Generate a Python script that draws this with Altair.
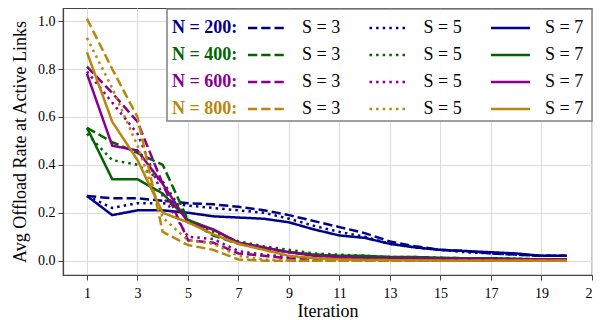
import altair as alt
import pandas as pd

# ---------------- data ----------------
iterations = list(range(1, 21))
N_values = ["200", "400", "600", "800"]
S_values = ["3", "5", "7"]

n200_s3 = [0.27, 0.26, 0.26, 0.25, 0.24, 0.235, 0.225, 0.21, 0.19, 0.165, 0.14, 0.115, 0.08, 0.06, 0.045, 0.04, 0.03, 0.025, 0.02, 0.02]
n200_s5 = [0.27, 0.22, 0.24, 0.24, 0.23, 0.22, 0.21, 0.20, 0.175, 0.145, 0.12, 0.10, 0.07, 0.055, 0.045, 0.035, 0.03, 0.025, 0.02, 0.02]
n200_s7 = [0.27, 0.19, 0.21, 0.21, 0.20, 0.185, 0.18, 0.175, 0.16, 0.13, 0.105, 0.095, 0.07, 0.055, 0.045, 0.04, 0.035, 0.03, 0.02, 0.02]

n400_s3 = [0.555, 0.495, 0.45, 0.40, 0.17, 0.105, 0.07, 0.05, 0.035, 0.025, 0.02, 0.015, 0.015, 0.012, 0.01, 0.01, 0.008, 0.005, 0.005, 0.005]
n400_s5 = [0.53, 0.42, 0.40, 0.33, 0.17, 0.12, 0.08, 0.06, 0.045, 0.03, 0.025, 0.02, 0.015, 0.015, 0.012, 0.01, 0.01, 0.008, 0.005, 0.005]
n400_s7 = [0.555, 0.34, 0.34, 0.28, 0.17, 0.13, 0.075, 0.055, 0.035, 0.025, 0.02, 0.02, 0.015, 0.015, 0.012, 0.01, 0.01, 0.008, 0.005, 0.005]

n600_s3 = [0.81, 0.70, 0.58, 0.32, 0.085, 0.075, 0.03, 0.02, 0.01, 0.005, 0.005, 0.005, 0.005, 0.005, 0.005, 0.005, 0.005, 0.005, 0.005, 0.005]
n600_s5 = [0.79, 0.66, 0.53, 0.27, 0.10, 0.09, 0.04, 0.025, 0.015, 0.01, 0.008, 0.006, 0.005, 0.005, 0.005, 0.005, 0.005, 0.005, 0.005, 0.005]
n600_s7 = [0.78, 0.48, 0.46, 0.32, 0.16, 0.13, 0.075, 0.055, 0.035, 0.02, 0.015, 0.01, 0.01, 0.01, 0.008, 0.008, 0.006, 0.005, 0.005, 0.005]

n800_s3 = [1.01, 0.80, 0.60, 0.12, 0.065, 0.045, 0.005, 0.0, 0.0, 0.0, 0.0, 0.0, 0.0, 0.0, 0.0, 0.0, 0.0, 0.0, 0.0, 0.0]
n800_s5 = [0.93, 0.72, 0.48, 0.18, 0.085, 0.07, 0.02, 0.005, 0.0, 0.0, 0.0, 0.0, 0.0, 0.0, 0.0, 0.0, 0.0, 0.0, 0.0, 0.0]
n800_s7 = [0.87, 0.58, 0.42, 0.20, 0.16, 0.11, 0.07, 0.045, 0.02, 0.01, 0.005, 0.003, 0.002, 0.001, 0.0, 0.0, 0.0, 0.0, 0.0, 0.0]

series = {
    ("200", "3"): n200_s3, ("200", "5"): n200_s5, ("200", "7"): n200_s7,
    ("400", "3"): n400_s3, ("400", "5"): n400_s5, ("400", "7"): n400_s7,
    ("600", "3"): n600_s3, ("600", "5"): n600_s5, ("600", "7"): n600_s7,
    ("800", "3"): n800_s3, ("800", "5"): n800_s5, ("800", "7"): n800_s7,
}

x_ticks = list(range(1, 22, 2))
y_ticks = [0.0, 0.2, 0.4, 0.6, 0.8, 1.0]

# ---------------- styles ----------------
colors = ["#00008B", "#006400", "#8B008B", "#B8860B"]
dashes = [[9.25, 4], [2.5, 4.1], [1, 0]]
FONT = "Liberation Serif"

rows = []
for (n, s), vals in series.items():
    for it, v in zip(iterations, vals):
        rows.append({"iteration": it, "value": v, "N": n, "S": s})
df = pd.DataFrame(rows)

color_scale = alt.Scale(domain=N_values, range=colors)
dash_scale = alt.Scale(domain=S_values, range=dashes)

PLOT_W, PLOT_H = 529, 267

lines = alt.Chart(df).mark_line(strokeWidth=2.5, clip=True).encode(
    x=alt.X("iteration:Q",
            scale=alt.Scale(domain=[0.05, 21], nice=False, zero=False),
            axis=alt.Axis(values=x_ticks, format="d", title="Iteration",
                          labelFlush=False, labelOverlap=False)),
    y=alt.Y("value:Q",
            scale=alt.Scale(domain=[-0.06, 1.055], nice=False, zero=False),
            axis=alt.Axis(values=y_ticks, format=".1f",
                          title="Avg Offload Rate at Active Links")),
    color=alt.Color("N:N", scale=color_scale, legend=None),
    strokeDash=alt.StrokeDash("S:N", scale=dash_scale, legend=None),
)

# ---------------- custom legend (pixel layout, relative to plot area) ----------------
row_y0, row_gap = 20, 27
label_x = 109
sample_x0, sample_len, col_gap = 185, 39, 121.5
text_x0 = 239

leg_rows = []
for i, n in enumerate(N_values):
    for j, s in enumerate(S_values):
        leg_rows.append({
            "N": n, "S": s,
            "sx": sample_x0 + j * col_gap,
            "sx2": sample_x0 + j * col_gap + sample_len,
            "sy": row_y0 + i * row_gap,
            "tx": text_x0 + j * col_gap,
            "label": f"S = {s}",
        })
leg_df = pd.DataFrame(leg_rows)
head_df = pd.DataFrame({
    "N": N_values,
    "hx": [label_x] * 4,
    "hy": [row_y0 + i * row_gap for i in range(4)],
    "label": [f"N = {n}:" for n in N_values],
})

box = alt.Chart(pd.DataFrame({"a": [0]})).mark_rect(
    fill="white", fillOpacity=0.92, stroke="#808080", strokeWidth=1.5
).encode(x=alt.value(104), x2=alt.value(PLOT_W), y=alt.value(1), y2=alt.value(113))

samples = alt.Chart(leg_df).mark_rule(strokeWidth=2.5).encode(
    x=alt.X("sx:Q", scale=None, axis=None),
    x2="sx2:Q",
    y=alt.Y("sy:Q", scale=None, axis=None),
    color=alt.Color("N:N", scale=color_scale, legend=None),
    strokeDash=alt.StrokeDash("S:N", scale=dash_scale, legend=None),
)

s_text = alt.Chart(leg_df).mark_text(
    align="left", baseline="middle", font=FONT, fontSize=18, color="black"
).encode(
    x=alt.X("tx:Q", scale=None, axis=None),
    y=alt.Y("sy:Q", scale=None, axis=None),
    text="label:N",
)

head_text = alt.Chart(head_df).mark_text(
    align="left", baseline="middle", font=FONT, fontSize=18, fontWeight="bold"
).encode(
    x=alt.X("hx:Q", scale=None, axis=None),
    y=alt.Y("hy:Q", scale=None, axis=None),
    text="label:N",
    color=alt.Color("N:N", scale=color_scale, legend=None),
)

chart = alt.layer(lines, box, samples, s_text, head_text).resolve_scale(
    x="independent", y="independent"
).properties(
    width=PLOT_W, height=PLOT_H,
    autosize=alt.AutoSizeParams(type="none"),
    padding={"left": 55, "top": 0, "right": 1, "bottom": 44},
).configure_view(
    stroke="#444444", strokeWidth=1.2
).configure_text(
    font=FONT
).configure_axis(
    labelFont=FONT, titleFont=FONT, labelFontSize=14, titleFontSize=18,
    labelColor="black", titleColor="black", titleFontWeight="normal",
    grid=True, gridColor="#dcdcdc", gridWidth=1,
    domainColor="#444444", domainWidth=1.2,
    tickColor="#444444", tickSize=5,
).configure_axisX(titlePadding=2, labelPadding=6).configure_axisY(titlePadding=8, labelPadding=3)

chart.save("out.html", embed_options={"renderer": "svg", "actions": False})
